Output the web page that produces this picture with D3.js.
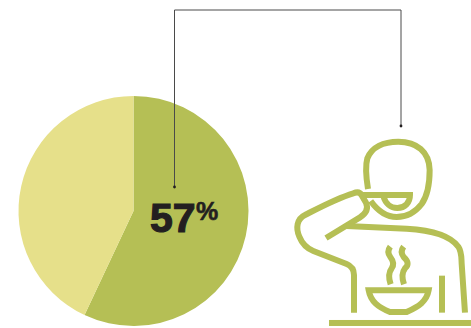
<!DOCTYPE html>
<html>
<head>
<meta charset="utf-8">
<script src="https://cdn.jsdelivr.net/npm/d3@7"></script>
<style>
  html, body { margin: 0; padding: 0; background: #fff; }
  svg { display: block; }
  text { font-family: "Liberation Sans", sans-serif; font-weight: 700; fill: #231f20; }
</style>
</head>
<body>
<svg id="chart" width="471" height="328"></svg>
<script>
// Share of respondents
const categories = ["Yes", "No"];
const shares = [57, 43];
const sliceColours = ["#b5bf55", "#e6e08a"];
const headline = "57";
const headlineUnit = "%";

const svg = d3.select("#chart");
const pieCentre = { x: 133.5, y: 211 };
const pieRadius = 115;
const ink = "#231f20";

// Pie, clockwise from twelve o'clock
const pie = d3.pie().sort(null).value((d, i) => shares[i]);
const arc = d3.arc().innerRadius(0).outerRadius(pieRadius);
svg.append("g")
  .attr("transform", `translate(${pieCentre.x},${pieCentre.y})`)
  .selectAll("path")
  .data(pie(categories))
  .join("path")
  .attr("d", arc)
  .attr("fill", (d, i) => sliceColours[i]);

// Leader joining the pie to the figure
const leader = [[174.5, 187], [174.5, 10], [401, 10], [401, 126]];
svg.append("path")
  .attr("d", d3.line()(leader))
  .attr("fill", "none")
  .attr("stroke", "#4a4a4a")
  .attr("stroke-width", 1);
svg.selectAll("circle.end")
  .data([leader[0], leader[leader.length - 1]])
  .join("circle")
  .attr("class", "end")
  .attr("cx", d => d[0])
  .attr("cy", d => d[1])
  .attr("r", 1.4)
  .attr("fill", ink);

// Headline figure
svg.append("text")
  .attr("x", 150)
  .attr("y", 232)
  .attr("font-size", 41)
  .attr("stroke", ink)
  .attr("stroke-width", 1.2)
  .text(headline);
svg.append("text")
  .attr("x", 196)
  .attr("y", 220)
  .attr("font-size", 25)
  .attr("stroke", ink)
  .attr("stroke-width", 0.6)
  .text(headlineUnit);

// Line drawing of a person eating soup, traced on a 3x grid
const figure = svg.append("g")
  .attr("transform", "translate(280,120) scale(0.3333)")
  .attr("fill", "none")
  .attr("stroke", "#b5bf55")
  .attr("stroke-width", 18);

const figurePaths = [
  // head
  "M264,207 C258,170 255,140 262,115 C275,82 310,65 355,65 C410,65 448,95 449,150 C449,190 442,228 425,252 C405,278 378,291 350,291 C320,291 295,275 272,243",
  // cup
  "M245,225 L390,225 C390,248 375,264 352,264 C332,264 316,250 310,228",
  // raised arm and elbow
  "M138,354 L240,292 C262,278 264,262 258,248 L245,226 C240,216 232,215 220,220 C170,235 120,262 75,285 C50,297 47,325 58,350 C68,375 85,387 100,393 L200,432 C215,438 222,450 222,465 L222,578",
  // shoulder and back
  "M200,318 L380,326 C450,330 510,345 535,380 C545,395 544,410 545,430 L555,578",
  // far arm
  "M486,467 L486,578",
  // steam
  "M331,380 C322,392 324,402 331,411 C342,425 342,435 335,445 C325,458 325,472 332,493",
  "M371,380 C362,392 364,402 371,411 C386,425 386,435 375,445 C365,458 365,472 372,493",
  // bowl
  "M266,511 L446,511 C440,545 415,560 380,576 L330,576 C295,562 272,545 266,511 Z"
];
figure.selectAll("path")
  .data(figurePaths)
  .join("path")
  .attr("d", d => d);

// Table edge
figure.append("rect")
  .attr("x", 147)
  .attr("y", 600)
  .attr("width", 426)
  .attr("height", 18)
  .attr("fill", "#b5bf55")
  .attr("stroke", "none");
</script>
</body>
</html>
